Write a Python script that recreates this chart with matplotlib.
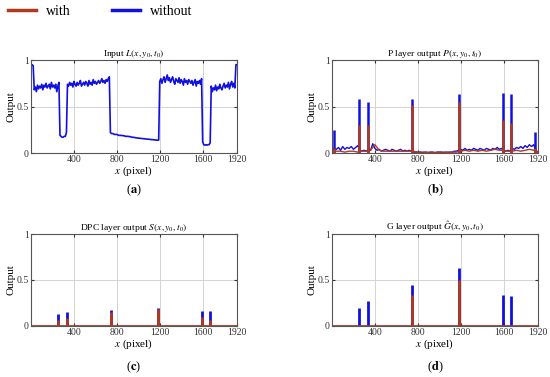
import numpy as np
import matplotlib
matplotlib.use('Agg')
from matplotlib import pyplot as plt
from matplotlib.lines import Line2D

plt.rcParams['font.family'] = ['Liberation Serif', 'DejaVu Serif']
plt.rcParams['mathtext.fontset'] = 'stix'

# ---- data ----
# input L, sampled every 10 px from 0 to 1920
L_vals = [0.95, 0.95, 0.94, 0.68,
          0.71, 0.66, 0.73, 0.69, 0.72, 0.70, 0.74, 0.68, 0.73, 0.71, 0.75, 0.70, 0.72, 0.74, 0.69, 0.76,
          0.71, 0.73, 0.70, 0.74, 0.66, 0.72,
          0.76, 0.19, 0.18, 0.17, 0.17, 0.18, 0.18, 0.22, 0.74,
          0.72, 0.76, 0.73, 0.75, 0.71, 0.77, 0.74, 0.72, 0.76, 0.73, 0.75, 0.78, 0.72, 0.74, 0.76, 0.73,
          0.77, 0.75, 0.72, 0.78, 0.74, 0.76, 0.73, 0.79, 0.75, 0.77, 0.74, 0.76, 0.78, 0.75, 0.77, 0.80,
          0.76, 0.78, 0.75, 0.79, 0.77, 0.80, 0.82,
          0.22, 0.21, 0.21, 0.205, 0.20, 0.20, 0.20, 0.195, 0.19, 0.19, 0.19, 0.188, 0.185, 0.185, 0.18,
          0.18, 0.18, 0.178, 0.175, 0.175, 0.17, 0.17, 0.168, 0.165, 0.165, 0.162, 0.16, 0.16, 0.158,
          0.157, 0.155, 0.155, 0.153, 0.152, 0.15, 0.15, 0.148, 0.147, 0.145, 0.145, 0.143, 0.142, 0.14,
          0.14, 0.138, 0.14,
          0.77, 0.80, 0.75, 0.79, 0.82, 0.76, 0.80, 0.84, 0.78, 0.81, 0.76, 0.79, 0.82, 0.77, 0.74, 0.80,
          0.78, 0.76, 0.81, 0.75, 0.79, 0.77, 0.73, 0.80, 0.76, 0.78, 0.74, 0.79, 0.77, 0.75, 0.78, 0.73,
          0.76, 0.79, 0.72, 0.77, 0.75, 0.78, 0.74, 0.80,
          0.12, 0.09, 0.085, 0.09, 0.085, 0.09, 0.09, 0.11,
          0.72, 0.66, 0.70, 0.68, 0.73, 0.67, 0.71, 0.69, 0.74, 0.70, 0.68, 0.72, 0.75, 0.70, 0.73, 0.71,
          0.76, 0.69, 0.74, 0.77, 0.71, 0.75, 0.70,
          0.95, 0.95, 0.95]
L_x = np.arange(len(L_vals)) * 10

# P layer baseline (every 20 px), without / with
P_wo_base = [0.03, 0.05, 0.04, 0.06, 0.03, 0.07, 0.04, 0.06, 0.05, 0.07, 0.04, 0.06, 0.08,
             0.03, 0.02, 0.03, 0.02, 0.04, 0.03, 0.10, 0.05, 0.03, 0.04, 0.02, 0.03, 0.04, 0.03,
             0.02, 0.04, 0.03, 0.02, 0.03, 0.04, 0.02, 0.03, 0.02, 0.03,
             0.02, 0.01, 0.01, 0.01, 0.01, 0.005, 0.01, 0.01, 0.005, 0.01, 0.01, 0.005, 0.01, 0.01,
             0.01, 0.005, 0.01, 0.01, 0.01, 0.01, 0.02, 0.02,
             0.03, 0.04, 0.03, 0.05, 0.03, 0.04, 0.03, 0.05, 0.04, 0.03, 0.05, 0.04, 0.03, 0.05,
             0.04, 0.03, 0.05, 0.04, 0.06, 0.04, 0.05,
             0.03, 0.02, 0.03, 0.02, 0.05, 0.04, 0.06, 0.05, 0.07, 0.05, 0.08, 0.06, 0.09, 0.07,
             0.09, 0.03, 0.01]
P_wo_x = np.arange(len(P_wo_base)) * 20
# every 40 px
P_w_base = [0.01, 0.02, 0.02, 0.01, 0.02, 0.02, 0.01, 0.02, 0.02, 0.03, 0.09,
            0.03, 0.02, 0.02, 0.02, 0.02, 0.02, 0.02, 0.02,
            0.02, 0.01, 0.01, 0.005, 0.01, 0.005, 0.01, 0.01, 0.005, 0.01, 0.01,
            0.02, 0.03, 0.02, 0.03, 0.02, 0.03, 0.02, 0.03, 0.04, 0.03,
            0.03, 0.02, 0.02, 0.03, 0.02, 0.03, 0.04, 0.03, 0.01]
P_w_x = np.arange(len(P_w_base)) * 40

P_peak_x = [20, 255, 332, 742, 1180, 1590, 1665, 1890]
P_peak_wo = [0.25, 0.58, 0.55, 0.58, 0.63, 0.65, 0.64, 0.23]
P_peak_w = [0.05, 0.30, 0.30, 0.52, 0.55, 0.36, 0.32, 0.05]

# DPC layer S and G layer
edge_x = [255, 332, 742, 1180, 1590, 1665]
S_wo = [0.13, 0.15, 0.17, 0.20, 0.16, 0.16]
S_w = [0.07, 0.09, 0.15, 0.18, 0.10, 0.06]
G_wo = [0.20, 0.27, 0.45, 0.63, 0.34, 0.33]
G_w = [0.0, 0.0, 0.34, 0.50, 0.0, 0.0]
floor_x = [0, 1920]
floor_y = [0.004, 0.004]

blue = '#1010E0'
red = '#B03A20'

fig = plt.figure(figsize=(5.5, 3.77), dpi=100)
pos = {'a': [0.0564, 0.594, 0.3745, 0.2467],
       'b': [0.6036, 0.594, 0.3745, 0.2467],
       'c': [0.0564, 0.1353, 0.3745, 0.244],
       'd': [0.6036, 0.1353, 0.3745, 0.244]}
titles = {'a': r'Input $L(x,y_0,t_0)$',
          'b': r'P layer output $P(x,y_0,t_0)$',
          'c': r'DPC layer output $S(x,y_0,t_0)$',
          'd': r'G layer output $\hat{G}(x,y_0,t_0)$'}

axes = {}
for k in 'abcd':
    ax = fig.add_axes(pos[k])
    axes[k] = ax
    ax.set_xlim(0, 1920)
    ax.set_ylim(0, 1)
    ax.set_xticks([400, 800, 1200, 1600, 1920])
    ax.set_yticks([0, 0.5, 1])
    ax.set_yticklabels(['0', '0.5', '1'])
    ax.grid(True, color='#d4d4d4', linewidth=0.7)
    ax.set_axisbelow(True)
    ax.tick_params(direction='in', length=2, labelsize=7, pad=1.5, top=True, right=True, colors='#333333')
    for s in ax.spines.values():
        s.set_color('#555555')
        s.set_linewidth(0.8)
    ax.set_title(titles[k], fontsize=6.8, pad=3)
    ax.set_ylabel('Output', fontsize=8, labelpad=1)
    ax.set_xlabel(r'$x$ (pixel)', fontsize=8, labelpad=0)

axes['a'].plot(L_x, L_vals, color=blue, linewidth=1.2)

ax = axes['b']
ax.plot(P_wo_x, P_wo_base, color=blue, linewidth=1.0)
ax.vlines(P_peak_x, 0, P_peak_wo, color=blue, linewidth=1.8)
ax.plot(P_w_x, P_w_base, color=red, linewidth=1.0)
ax.vlines(P_peak_x, 0, P_peak_w, color=red, linewidth=1.8)

for k, wo, w in [('c', S_wo, S_w), ('d', G_wo, G_w)]:
    ax = axes[k]
    ax.plot(floor_x, floor_y, color=blue, linewidth=1.0)
    ax.vlines(edge_x, 0, wo, color=blue, linewidth=2.0)
    ax.plot(floor_x, floor_y, color=red, linewidth=1.2)
    ax.vlines(edge_x, 0, w, color=red, linewidth=2.0)

for k, (x, y) in {'a': (134, 190), 'b': (435, 190), 'c': (134, 367), 'd': (435, 367)}.items():
    fig.text(x / 550, 1 - y / 377, '(' + r'$\mathbf{' + k + '}$' + ')', fontsize=9,
             ha='center', va='center')

handles = [Line2D([], [], color=red, linewidth=2.5), Line2D([], [], color=blue, linewidth=2.5)]
fig.legend(handles, ['with', 'without'], loc='upper left', bbox_to_anchor=(0.0, 1.01),
           ncol=2, frameon=False, fontsize=10, handlelength=2.0, handletextpad=0.7,
           columnspacing=3.0, borderaxespad=0.2)

fig.savefig('out.png', dpi=100)
